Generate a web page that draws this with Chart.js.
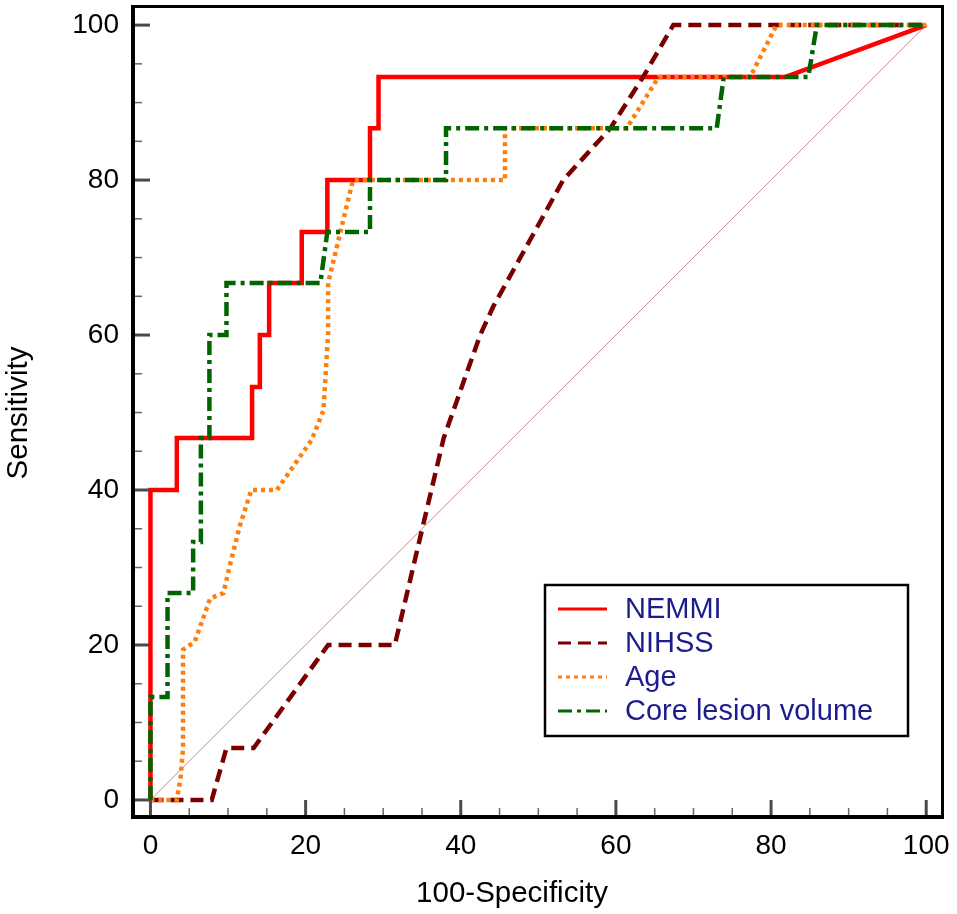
<!DOCTYPE html>
<html>
<head>
<meta charset="utf-8">
<title>ROC curves</title>
<script src="https://cdn.jsdelivr.net/npm/chart.js@4.4.1/dist/chart.umd.min.js"></script>
<style>
    html, body { margin: 0; padding: 0; background: #fff; }
    #wrap { width: 957px; height: 914px; }
</style>
</head>
<body>
<div id="wrap"><canvas id="roc-chart" width="957" height="914"></canvas></div>
<script>
// Curve data: 100-Specificity (x) and Sensitivity (y)
const nemmiFpr  = [0, 0, 3.4, 3.4, 13.1, 13.1, 14.1, 14.1, 15.3, 15.3, 19.5, 19.5, 22.8, 22.8, 28.3, 28.3, 29.4, 29.4, 81.8, 100];
const nemmiSens = [0, 40, 40, 46.7, 46.7, 53.3, 53.3, 60, 60, 66.7, 66.7, 73.3, 73.3, 80, 80, 86.7, 86.7, 93.3, 93.3, 100];

const nihssFpr  = [0, 7.9, 9.8, 13.3, 22.9, 31.5, 35.2, 37.8, 42.5, 44.2, 53.2, 59.3, 63.5, 67.4, 100];
const nihssSens = [0, 0, 6.7, 6.7, 20, 20, 35.7, 46.7, 60, 63.7, 80, 86.7, 93.3, 100, 100];

const ageFpr  = [0, 3.4, 3.9, 4.2, 4.2, 5.7, 7.7, 9.4, 10.2, 11.5, 13.0, 16.3, 20.8, 22.3, 22.9, 22.9, 26.1, 45.7, 45.7, 61.4, 65.5, 77.3, 80.7, 100];
const ageSens = [0, 0, 3, 6.7, 19.4, 20.4, 26.0, 26.7, 30.1, 35.3, 40, 40, 46.5, 50.3, 60.2, 66.7, 80, 80, 86.7, 86.7, 93.3, 93.3, 100, 100];

const coreFpr  = [0, 0, 2.2, 2.2, 5.5, 5.5, 6.5, 6.5, 7.6, 7.6, 9.8, 9.8, 21.9, 22.8, 28.3, 28.3, 38.1, 38.1, 73.0, 73.9, 84.8, 85.9, 100];
const coreSens = [0, 13.3, 13.3, 26.7, 26.7, 33.3, 33.3, 46.7, 46.7, 60, 60, 66.7, 66.7, 73.3, 73.3, 80, 80, 86.7, 86.7, 93.3, 93.3, 100, 100];

const refFpr  = [0, 100];
const refSens = [0, 100];

const seriesLabels = ['NEMMI', 'NIHSS', 'Age', 'Core lesion volume'];
const tickValues = [0, 20, 40, 60, 80, 100];
const xTitle = '100-Specificity';
const yTitle = 'Sensitivity';

const FONT = "'Liberation Sans', Arial, sans-serif";

function toPoints(xs, ys) {
    return xs.map((x, i) => ({ x: x, y: ys[i] }));
}

// Frame, inward ticks, axis titles and legend
const decorPlugin = {
    id: 'decor',
    afterDraw(chart) {
        const { ctx, chartArea: a, scales: { x, y } } = chart;
        ctx.save();

        // minor and major ticks pointing into the plot
        for (let v = 0; v <= 100; v += 5) {
            const major = v % 20 === 0;
            const len = major ? 17 : 9;
            ctx.strokeStyle = major ? '#4a4a4a' : '#666';
            ctx.lineWidth = major ? 3 : 1.5;
            const py = y.getPixelForValue(v);
            ctx.beginPath();
            ctx.moveTo(a.left, py);
            ctx.lineTo(a.left + len, py);
            ctx.stroke();
            const px = x.getPixelForValue(v);
            ctx.beginPath();
            ctx.moveTo(px, a.bottom);
            ctx.lineTo(px, a.bottom - len);
            ctx.stroke();
        }

        // box
        ctx.strokeStyle = '#000';
        ctx.lineWidth = 3;
        ctx.beginPath();
        ctx.moveTo(a.left, a.top);
        ctx.lineTo(a.right, a.top);
        ctx.lineTo(a.right, a.bottom);
        ctx.stroke();
        ctx.lineWidth = 4;
        ctx.beginPath();
        ctx.moveTo(a.left, a.top - 1.5);
        ctx.lineTo(a.left, a.bottom);
        ctx.lineTo(a.right + 1.5, a.bottom);
        ctx.stroke();

        // axis titles
        ctx.fillStyle = '#000';
        ctx.font = '29.5px ' + FONT;
        ctx.textAlign = 'center';
        ctx.textBaseline = 'alphabetic';
        ctx.fillText(xTitle, 512, 902);
        ctx.translate(27, 413);
        ctx.rotate(-Math.PI / 2);
        ctx.fillText(yTitle, 0, 0);
        ctx.setTransform(1, 0, 0, 1, 0, 0);

        // legend box
        const lx = 545, ly = 585, lw = 363, lh = 151;
        ctx.fillStyle = '#fff';
        ctx.fillRect(lx, ly, lw, lh);
        ctx.strokeStyle = '#000';
        ctx.lineWidth = 2.5;
        ctx.strokeRect(lx, ly, lw, lh);

        ctx.font = '29px ' + FONT;
        ctx.textAlign = 'left';
        ctx.textBaseline = 'middle';
        seriesLabels.forEach((label, i) => {
            const ds = chart.data.datasets[i];
            const rowY = 609 + i * 34;
            ctx.strokeStyle = ds.borderColor;
            ctx.lineWidth = 3;
            ctx.setLineDash(ds.borderDash || []);
            ctx.beginPath();
            ctx.moveTo(558, rowY);
            ctx.lineTo(607, rowY);
            ctx.stroke();
            ctx.setLineDash([]);
            ctx.fillStyle = '#1c1c8c';
            ctx.fillText(label, 625, rowY + 1);
        });

        ctx.restore();
    }
};

const lineBase = {
    borderWidth: 4.5,
    pointRadius: 0,
    fill: false,
    tension: 0,
    borderCapStyle: 'butt',
    borderJoinStyle: 'miter'
};

const rocChart = new Chart(document.getElementById('roc-chart'), {
    type: 'line',
    data: {
        datasets: [
            Object.assign({}, lineBase, {
                label: seriesLabels[0],
                data: toPoints(nemmiFpr, nemmiSens),
                borderColor: '#ff0000',
                order: 3
            }),
            Object.assign({}, lineBase, {
                label: seriesLabels[1],
                data: toPoints(nihssFpr, nihssSens),
                borderColor: '#7a0000',
                borderDash: [13, 7],
                order: 2
            }),
            Object.assign({}, lineBase, {
                label: seriesLabels[2],
                data: toPoints(ageFpr, ageSens),
                borderColor: '#ff7f0e',
                borderDash: [4, 4],
                order: 1
            }),
            Object.assign({}, lineBase, {
                label: seriesLabels[3],
                data: toPoints(coreFpr, coreSens),
                borderColor: '#006400',
                borderDash: [14, 5, 4, 5],
                order: 0
            }),
            Object.assign({}, lineBase, {
                label: 'reference',
                data: toPoints(refFpr, refSens),
                borderColor: '#c48a8a',
                borderWidth: 1,
                order: 4
            })
        ]
    },
    options: {
        responsive: false,
        animation: false,
        devicePixelRatio: 1,
        layout: { padding: { top: 6.5, right: 14.5, left: 0, bottom: 0 } },
        plugins: {
            legend: { display: false },
            tooltip: { enabled: false }
        },
        scales: {
            x: {
                type: 'linear',
                min: -2.25,
                max: 102.1,
                grid: { display: false, drawTicks: false },
                border: { display: false },
                afterBuildTicks: scale => {
                    scale.ticks = tickValues.map(v => ({ value: v }));
                },
                afterFit: scale => {
                    scale.height = 97;
                    scale.paddingLeft = 0;
                    scale.paddingRight = 0;
                },
                ticks: {
                    padding: 12,
                    maxRotation: 0,
                    color: '#000',
                    font: { family: FONT, size: 28 }
                }
            },
            y: {
                type: 'linear',
                min: -2.2,
                max: 102.4,
                grid: { display: false, drawTicks: false },
                border: { display: false },
                afterBuildTicks: scale => {
                    scale.ticks = tickValues.map(v => ({ value: v }));
                },
                afterFit: scale => {
                    scale.width = 133;
                    scale.paddingTop = 0;
                    scale.paddingBottom = 0;
                },
                ticks: {
                    padding: 14,
                    color: '#000',
                    font: { family: FONT, size: 28 }
                }
            }
        }
    },
    plugins: [decorPlugin]
});
</script>
</body>
</html>
